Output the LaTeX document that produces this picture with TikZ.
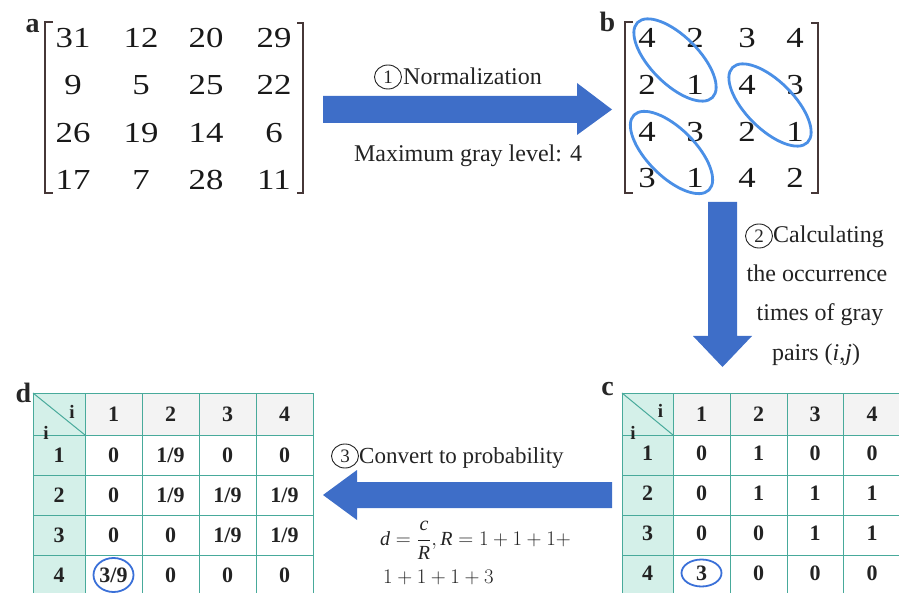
\documentclass[tikz,border=0pt]{standalone}
\usepackage{fontspec}
\setmainfont{Liberation Serif}
\newfontfamily\matfont[FakeStretch=1.2]{Liberation Serif}
\usetikzlibrary{shapes.geometric}
\definecolor{ablue}{RGB}{62,110,200}
\definecolor{eblue}{RGB}{74,143,230}
\definecolor{cblue}{RGB}{58,112,216}
\definecolor{tealline}{RGB}{72,170,155}
\definecolor{tealfill}{RGB}{212,240,233}
\definecolor{hdrfill}{RGB}{243,243,243}
\definecolor{txt}{RGB}{35,35,35}
\definecolor{brk}{RGB}{70,55,55}
\begin{document}
\begin{tikzpicture}[x=1pt,y=-1pt,
 mat/.style={font=\matfont\fontsize{29}{29}\selectfont,text=black!90,inner sep=0pt},
 cell/.style={font=\bfseries\fontsize{22}{22}\selectfont,text=txt,inner sep=0pt},
 smalli/.style={font=\bfseries\fontsize{19}{19}\selectfont,text=txt,inner sep=0pt},
 panel/.style={font=\bfseries\fontsize{28}{28}\selectfont,text=black!85,inner sep=0pt,anchor=base},
 desc/.style={font=\fontsize{24}{24}\selectfont,text=txt,inner sep=0pt,anchor=base},
 formula/.style={font=\fontsize{20}{20}\selectfont,text=txt,inner sep=0pt,anchor=base west},
 cnum/.style={ellipse,draw=txt,line width=0.9pt,minimum width=27pt,minimum height=24pt,inner sep=0pt,font=\fontsize{19}{19}\selectfont,text=txt},
 bracket/.style={draw=brk,line width=1.6pt},
 pair/.style={draw=eblue,line width=2.8pt},
 blockarrow/.style={fill=ablue},
 ring/.style={draw=cblue,line width=1.8pt},
 gridline/.style={draw=tealline,line width=1pt}]

\useasboundingbox (0,0) rectangle (899,593);
\clip (0,0) rectangle (899,593);

% ---------- panel a ----------
\node[panel] (la) at (32.5,33) {a};
\draw[bracket] (53,22) -- (45,22) -- (45,193) -- (53,193);
\draw[bracket] (297,23) -- (303,23) -- (303,193) -- (297,193);
\foreach \row [count=\r] in {{31,12,20,29},{9,5,25,22},{26,19,14,6},{17,7,28,11}} {
  \pgfmathsetmacro\yy{{38,85,133,180}[\r-1]}
  \foreach \v [count=\c] in \row {
    \pgfmathsetmacro\xx{{73,141,206,274}[\c-1]}
    \node[mat] (a-\r-\c) at (\xx,\yy) {\v};
  }
}

% ---------- panel b ----------
\node[panel] (lb) at (607.5,32) {b};
\draw[bracket] (633,22) -- (625,22) -- (625,193) -- (633,193);
\draw[bracket] (811,23) -- (818,23) -- (818,193) -- (811,193);
\foreach \row [count=\r] in {{4,2,3,4},{2,1,4,3},{4,3,2,1},{3,1,4,2}} {
  \pgfmathsetmacro\yy{{38,85,132,178}[\r-1]}
  \foreach \v [count=\c] in \row {
    \pgfmathsetmacro\xx{{647,695,747,795}[\c-1]}
    \node[mat] (b-\r-\c) at (\xx,\yy) {\v};
  }
}
\draw[pair,rotate around={-45:(675,60)}] (675,60) ellipse [x radius=53pt,y radius=24pt];
\draw[pair,rotate around={-45:(770,105)}] (770,105) ellipse [x radius=53pt,y radius=24pt];
\draw[pair,rotate around={-45:(671.5,152.5)}] (671.5,152.5) ellipse [x radius=53pt,y radius=24pt];

% ---------- arrows ----------
\fill[blockarrow] (323,96) -- (577,96) -- (577,83) -- (612,109.5) -- (577,135) -- (577,123) -- (323,123) -- cycle;
\fill[blockarrow] (708,202) -- (737,202) -- (737,336) -- (752,336) -- (722.5,367) -- (693,336) -- (708,336) -- cycle;
\fill[blockarrow] (612,482) -- (357,482) -- (357,470) -- (323,495) -- (357,520) -- (357,508) -- (612,508) -- cycle;

% ---------- step texts ----------
\node[cnum] (n1) at (388,77) {1};
\node[desc,anchor=base west] (t1) at (403,85) {Normalization};
\node[desc] (t1b) at (468,162) {Maximum gray level: 4};

\node[cnum] (n2) at (759,236) {2};
\node[desc,anchor=base west] (t2a) at (773,243) {Calculating};
\node[desc] (t2b) at (817,282) {the occurrence};
\node[desc] (t2c) at (820,321) {times of gray};
\node[desc] (t2d) at (816,360) {pairs (\textit{i},\textit{j})};

\node[cnum] (n3) at (345,456) {3};
\node[desc,anchor=base west,font=\fontsize{23}{23}\selectfont] (t3) at (359,463) {Convert to probability};
\node[formula] (f1) at (380,545) {$\textit{d}=\displaystyle\frac{\textit{c}}{\textit{R}},\textit{R}=1+1+1+$};
\node[formula] (f2) at (383,583) {$1+1+1+3$};

% ---------- table d ----------
\node[panel] (ld) at (23.5,402) {d};
\begin{scope}[shift={(33,393)}]
  \fill[tealfill] (0,0) rectangle (52,202);
  \fill[hdrfill] (52,0) rectangle (280,42);
  \foreach \x in {0,52,109,166,223,280} \draw[gridline] (\x,0) -- (\x,202);
  \foreach \y in {0,42,82,122,162,202} \draw[gridline] (0,\y) -- (280,\y);
  \draw[gridline] (0,0) -- (52,42);
  \node[smalli] (d-ti) at (39,19) {i};
  \node[smalli] (d-bi) at (13,40) {i};
  \foreach \v [count=\c] in {1,2,3,4} {
    \pgfmathsetmacro\xx{{80.5,137.5,194.5,251.5}[\c-1]}
    \node[cell] (d-h-\c) at (\xx,21) {\v};
  }
  \foreach \row [count=\r] in {{0,1/9,0,0},{0,1/9,1/9,1/9},{0,0,1/9,1/9},{3/9,0,0,0}} {
    \pgfmathsetmacro\yy{22+40*\r}
    \node[cell] (d-r-\r) at (26,\yy) {\r};
    \foreach \v [count=\c] in \row {
      \pgfmathsetmacro\xx{{80.5,137.5,194.5,251.5}[\c-1]}
      \node[cell] (d-\r-\c) at (\xx,\yy) {\v};
    }
  }
  \draw[ring] (d-4-1) ellipse [x radius=20pt,y radius=17pt];
\end{scope}

% ---------- table c ----------
\node[panel] (lc) at (607.5,395) {c};
\begin{scope}[shift={(622,393)}]
  \fill[tealfill] (0,0) rectangle (51,202);
  \fill[hdrfill] (51,0) rectangle (280,42);
  \foreach \x in {0,51,108,165,221,280} \draw[gridline] (\x,0) -- (\x,202);
  \foreach \y in {0,42,82,122,162,202} \draw[gridline] (0,\y) -- (280,\y);
  \draw[gridline] (0,0) -- (51,42);
  \node[smalli] (c-ti) at (38.5,18) {i};
  \node[smalli] (c-bi) at (11,40) {i};
  \foreach \v [count=\c] in {1,2,3,4} {
    \pgfmathsetmacro\xx{{79.5,136.5,193,250}[\c-1]}
    \node[cell] (c-h-\c) at (\xx,21) {\v};
  }
  \foreach \row [count=\r] in {{0,1,0,0},{0,1,1,1},{0,0,1,1},{3,0,0,0}} {
    \pgfmathsetmacro\yy{20+40*\r}
    \node[cell] (c-r-\r) at (25.5,\yy) {\r};
    \foreach \v [count=\c] in \row {
      \pgfmathsetmacro\xx{{79.5,136.5,193,250}[\c-1]}
      \node[cell] (c-\r-\c) at (\xx,\yy) {\v};
    }
  }
  \draw[ring] (c-4-1) ellipse [x radius=20pt,y radius=13.5pt];
\end{scope}
\end{tikzpicture}
\end{document}
